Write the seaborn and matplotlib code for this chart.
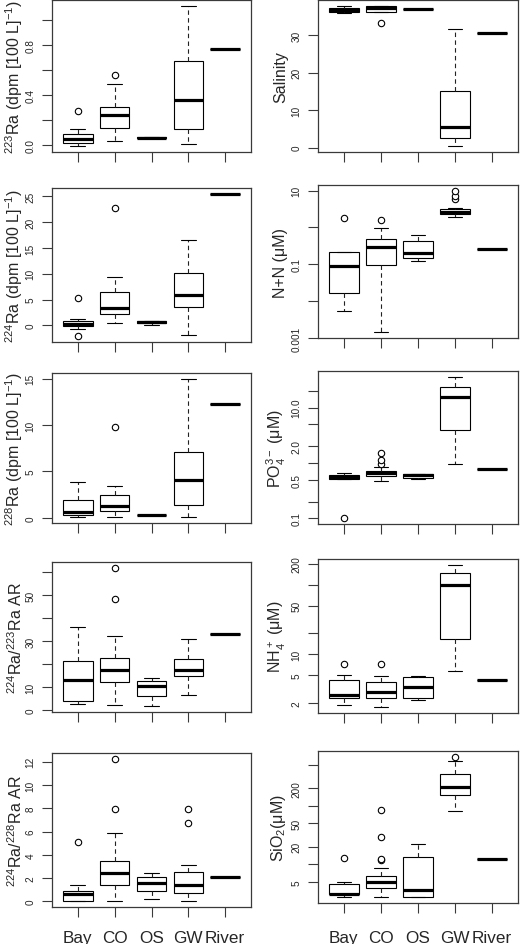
import numpy as np
import pandas as pd
import matplotlib
matplotlib.use("Agg")
import matplotlib.pyplot as plt
from matplotlib.ticker import NullLocator
import seaborn as sns

sites = ["Bay", "CO", "OS", "GW", "River"]

# five-number summaries per site: [lower whisker, Q1, median, Q3, upper whisker]
ra223_box = [[-0.013, 0.016, 0.048, 0.088, 0.125], [0.032, 0.133, 0.239, 0.302, 0.491],
             [0.053, 0.054, 0.058, 0.064, 0.066], [0.005, 0.130, 0.361, 0.671, 1.119], [0.767]]
ra223_out = [[0.268], [0.565], [], [], []]

sal_box = [[36.0, 36.3, 36.8, 37.2, 37.9], [36.1, 36.2, 37.4, 37.7, 37.8],
           [37.1, 37.1, 37.1, 37.1, 37.1], [0.35, 2.5, 5.4, 15.2, 31.6], [30.6]]
sal_out = [[], [33.2], [], [], []]

ra224_box = [[-0.7, -0.1, 0.3, 0.8, 1.3], [0.4, 2.3, 3.3, 6.5, 9.3],
             [0.06, 0.4, 0.65, 0.9, 0.9], [-1.9, 3.6, 5.8, 10.2, 16.6], [25.5]]
ra224_out = [[5.4, -2.1], [22.7], [], [], []]

nn_box = [[0.0053, 0.0163, 0.090, 0.216, 0.22], [0.00143, 0.096, 0.30, 0.49, 0.99],
          [0.123, 0.149, 0.207, 0.42, 0.61], [1.97, 2.33, 2.63, 3.17, 3.39], [0.26]]
nn_out = [[1.81], [1.57], [], [6.0, 7.2, 10.0], []]

ra228_box = [[0.14, 0.35, 0.63, 1.9, 3.83], [0.04, 0.70, 1.26, 2.49, 3.41],
             [0.30, 0.31, 0.32, 0.33, 0.34], [0.04, 1.4, 4.1, 7.1, 15.0], [12.3]]
ra228_out = [[], [9.73], [], [], []]

po4_box = [[0.507, 0.52, 0.566, 0.60, 0.668], [0.467, 0.574, 0.66, 0.715, 0.86],
           [0.51, 0.535, 0.60, 0.64, 0.64], [0.973, 3.95, 15.8, 24.0, 36.3], [0.77]]
po4_out = [[0.1], [0.945, 1.14, 1.53], [], [], []]

ar43_box = [[2.5, 4.0, 13.1, 21.5, 36.2], [2.1, 12.1, 17.4, 22.5, 32.1],
            [1.5, 6.0, 10.6, 12.4, 14.1], [6.5, 14.7, 17.2, 22.2, 31.0], [33.1]]
ar43_out = [[], [48.4, 62.1], [], [], []]

nh4_box = [[1.89, 2.39, 2.58, 4.25, 5.0], [1.73, 2.39, 2.85, 3.97, 4.85],
           [2.19, 2.33, 3.44, 4.64, 4.95], [5.79, 16.8, 97.6, 146.0, 194.0], [4.25]]
nh4_out = [[7.14], [7.14], [], [], []]

ar48_box = [[0.0, 0.06, 0.66, 0.92, 1.38], [0.0, 1.38, 2.42, 3.45, 5.84],
            [0.23, 0.89, 1.58, 2.07, 2.47], [0.0, 0.72, 1.44, 2.56, 3.08], [2.07]]
ar48_out = [[5.09], [7.97, 12.26], [], [6.71, 7.97], []]

sio2_box = [[2.79, 3.09, 3.13, 4.69, 5.0], [2.79, 3.96, 5.07, 6.40, 8.75],
            [2.72, 2.75, 3.66, 13.4, 22.3], [81.6, 156.0, 211.0, 345.0, 580.0], [12.1]]
sio2_out = [[12.9], [12.0, 12.5, 29.2, 86.0], [], [695.0], []]

# y ticks and tick labels per panel
ra223_ticks = [0.0, 0.2, 0.4, 0.6, 0.8, 1.0]
ra223_labels = ["0.0", "", "0.4", "", "0.8", ""]
sal_ticks = [0, 10, 20, 30]
sal_labels = ["0", "10", "20", "30"]
ra224_ticks = [0, 5, 10, 15, 20, 25]
ra224_labels = ["0", "5", "10", "15", "20", "25"]
nn_ticks = [0.001, 0.01, 0.1, 1, 10]
nn_labels = ["0.001", "", "0.1", "", "10"]
ra228_ticks = [0, 5, 10, 15]
ra228_labels = ["0", "5", "10", "15"]
po4_ticks = [0.1, 0.2, 0.5, 1, 2, 5, 10, 20]
po4_labels = ["0.1", "", "0.5", "", "2.0", "", "10.0", ""]
ar43_ticks = [0, 10, 20, 30, 40, 50, 60]
ar43_labels = ["0", "10", "", "30", "", "50", ""]
nh4_ticks = [2, 5, 10, 20, 50, 100, 200]
nh4_labels = ["2", "5", "10", "", "50", "", "200"]
ar48_ticks = [0, 2, 4, 6, 8, 10, 12]
ar48_labels = ["0", "2", "4", "6", "8", "10", "12"]
sio2_ticks = [5, 10, 20, 50, 100, 200, 500]
sio2_labels = ["5", "", "20", "50", "", "200", ""]

sns.set_style("ticks")
plt.rcParams["font.family"] = ["Liberation Sans", "DejaVu Sans"]
plt.rcParams["mathtext.fontset"] = "custom"
plt.rcParams["mathtext.rm"] = "Liberation Sans"
plt.rcParams["mathtext.it"] = "Liberation Sans:italic"
plt.rcParams["mathtext.bf"] = "Liberation Sans:bold"

W, H = 520, 945
fig = plt.figure(figsize=(W / 100, H / 100), dpi=100)
fig.patch.set_facecolor("white")

FRAME = "#3a3a3a"


def add_ax(x0, x1, top, bot):
    return fig.add_axes([x0 / W, 1 - bot / H, (x1 - x0) / W, (bot - top) / H])


def panel(ax, boxes, outs, log, ticks, labels, ylabel, show_x, xpad, lpad):
    df = pd.DataFrame([(s, v) for s, b in zip(sites, boxes) for v in b],
                      columns=["site", "value"])
    sns.boxplot(data=df, x="site", y="value", order=sites, ax=ax,
                whis=(0, 100), width=0.8, color="white", linecolor="black",
                linewidth=0.8, fliersize=0, log_scale=True if log else None,
                medianprops=dict(linewidth=2.3, color="black", solid_capstyle="butt"),
                whiskerprops=dict(linestyle=(0, (4, 3)), color="#222222", linewidth=0.8),
                capprops=dict(color="black", linewidth=0.8))
    odf = pd.DataFrame([(s, v) for s, o in zip(sites, outs) for v in o],
                       columns=["site", "value"])
    if len(odf):
        sns.stripplot(data=odf, x="site", y="value", order=sites, ax=ax,
                      jitter=False, color="white", edgecolor="black",
                      linewidth=0.8, size=4.6, log_scale=True if log else None,
                      zorder=5)
    allv = np.array([v for b in boxes for v in b] + [v for o in outs for v in o])
    if log:
        lo, hi = np.log10(allv.min()), np.log10(allv.max())
        r = hi - lo
        ax.set_ylim(10 ** (lo - 0.04 * r), 10 ** (hi + 0.04 * r))
    else:
        lo, hi = allv.min(), allv.max()
        r = hi - lo
        ax.set_ylim(lo - 0.04 * r, hi + 0.04 * r)
    ax.set_xlim(-0.7, 4.7)
    ax.set_yticks(ticks)
    ax.set_yticklabels(labels)
    ax.yaxis.set_minor_locator(NullLocator())
    ax.set_xticks(range(len(sites)))
    ax.set_xticklabels(sites if show_x else [""] * len(sites))
    ax.set_xlabel("")
    ax.set_ylabel(ylabel, fontsize=11.5, labelpad=lpad)
    for sp in ax.spines.values():
        sp.set_visible(True)
        sp.set_color(FRAME)
        sp.set_linewidth(0.9)
    ax.tick_params(axis="y", direction="out", length=7, width=0.8, color=FRAME,
                   labelsize=7.2, pad=5, labelrotation=90)
    ax.tick_params(axis="x", direction="out", length=7, width=0.8, color=FRAME,
                   labelsize=12.3, pad=xpad)
    for t in ax.get_yticklabels():
        t.set_verticalalignment("center")
    ax.set_facecolor("white")


left = (52, 251)
right = (318, 518)
rows_l = [(1, 153), (189, 343), (374, 524), (563, 713), (754, 908)]
rows_r = [(1, 153), (186, 339), (372, 525), (560, 714), (752, 904)]

specs_l = [
    (ra223_box, ra223_out, False, ra223_ticks, ra223_labels, r"$^{223}$Ra (dpm [100 L]$^{-1}$)"),
    (ra224_box, ra224_out, False, ra224_ticks, ra224_labels, r"$^{224}$Ra (dpm [100 L]$^{-1}$)"),
    (ra228_box, ra228_out, False, ra228_ticks, ra228_labels, r"$^{228}$Ra (dpm [100 L]$^{-1}$)"),
    (ar43_box, ar43_out, False, ar43_ticks, ar43_labels, r"$^{224}$Ra/$^{223}$Ra AR"),
    (ar48_box, ar48_out, False, ar48_ticks, ar48_labels, r"$^{224}$Ra/$^{228}$Ra AR"),
]
specs_r = [
    (sal_box, sal_out, False, sal_ticks, sal_labels, "Salinity"),
    (nn_box, nn_out, True, nn_ticks, nn_labels, "N+N (μM)"),
    (po4_box, po4_out, True, po4_ticks, po4_labels, r"PO$_4^{3-}$ (μM)"),
    (nh4_box, nh4_out, True, nh4_ticks, nh4_labels, r"NH$_4^+$ (μM)"),
    (sio2_box, sio2_out, True, sio2_ticks, sio2_labels, r"SiO$_2$(μM)"),
]

for i, ((t, b), sp) in enumerate(zip(rows_l, specs_l)):
    ax = add_ax(left[0], left[1], t, b)
    panel(ax, *sp, show_x=(i == 4), xpad=9.5, lpad=0.5)
for i, ((t, b), sp) in enumerate(zip(rows_r, specs_r)):
    ax = add_ax(right[0], right[1], t, b)
    panel(ax, *sp, show_x=(i == 4), xpad=12.5, lpad=2.5)

fig.savefig("out.png", dpi=100, facecolor="white")
